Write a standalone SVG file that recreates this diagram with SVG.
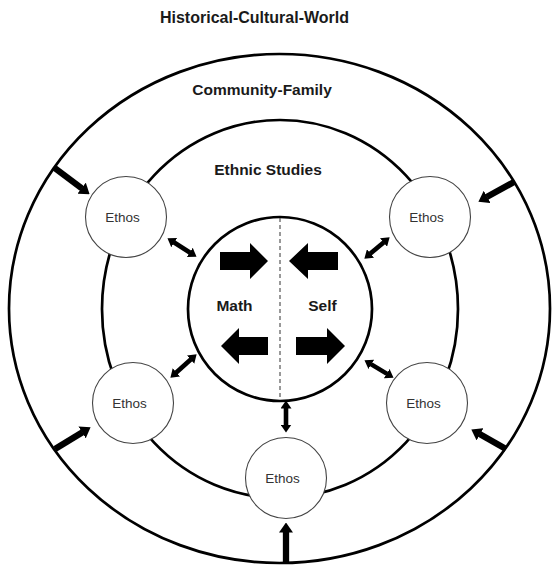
<svg xmlns="http://www.w3.org/2000/svg" width="557" height="568" viewBox="0 0 557 568">
<style>
.ring{fill:none;stroke:#000;stroke-width:2.7}
.lbl{font-family:"Liberation Sans",Arial,sans-serif;font-weight:bold;font-size:15.5px;fill:#1a1a1a;text-anchor:middle}
.ethos circle{fill:#fff;stroke:#444;stroke-width:1.1}
.ethos text{font-family:"Liberation Sans",Arial,sans-serif;font-size:13.5px;fill:#333;text-anchor:middle}
.thick{stroke:#000;stroke-width:6.3;fill:none;marker-end:url(#ah)}
.dbl{stroke:#000;stroke-width:4.6;fill:none;marker-start:url(#dh);marker-end:url(#dh)}
.blk{fill:#000}
</style>
<defs>
<marker id="ah" markerUnits="userSpaceOnUse" viewBox="0 0 10 14" markerWidth="10" markerHeight="14" refX="0.5" refY="7" orient="auto"><path d="M0,0 L10,7 L0,14 Z" fill="#000"/></marker>
<marker id="dh" markerUnits="userSpaceOnUse" viewBox="0 0 8 11" markerWidth="8" markerHeight="11" refX="0.5" refY="5.5" orient="auto-start-reverse"><path d="M0,0 L8,5.5 L0,11 Z" fill="#000"/></marker>
</defs>
<rect width="557" height="568" fill="#fff"/>
<text class="lbl" x="254.5" y="22.5" style="font-size:16px">Historical-Cultural-World</text>
<g id="outer"><ellipse class="ring" cx="279.5" cy="308.5" rx="270.5" ry="254.5"/></g>
<text class="lbl" x="262" y="95">Community-Family</text>
<g id="middle"><ellipse class="ring" cx="280" cy="309" rx="178" ry="189"/></g>
<text class="lbl" x="268" y="175">Ethnic Studies</text>
<g id="core">
<circle class="ring" cx="280" cy="309" r="92"/>
<line x1="280" y1="218" x2="280" y2="400" stroke="#333" stroke-width="1" stroke-dasharray="4 3"/>
<polygon class="blk" points="220,252 250,252 250,243 268,261 250,279 250,270 220,270"/>
<polygon class="blk" points="338,252 308,252 308,243 289,261 308,279 308,270 338,270"/>
<polygon class="blk" points="268,337 239,337 239,328 221,346 239,364 239,355 268,355"/>
<polygon class="blk" points="296,337 327,337 327,328 345,346 327,364 327,355 296,355"/>
<text class="lbl" x="234.5" y="311">Math</text>
<text class="lbl" x="322.5" y="311">Self</text>
</g>
<g id="connectors">
<line class="thick" x1="54" y1="167.5" x2="82" y2="188.5"/>
<line class="thick" x1="514" y1="182" x2="486.7" y2="197.1"/>
<line class="thick" x1="55" y1="449" x2="82.5" y2="432.2"/>
<line class="thick" x1="506" y1="449" x2="479.6" y2="434.1"/>
<line class="thick" x1="286" y1="563" x2="286" y2="532"/>
<line class="dbl" x1="173.8" y1="242.3" x2="190.2" y2="252.7"/>
<line class="dbl" x1="383.9" y1="242.2" x2="370.1" y2="253.8"/>
<line class="dbl" x1="176" y1="372.7" x2="191" y2="359.3"/>
<line class="dbl" x1="387.1" y1="373.9" x2="370.9" y2="364.1"/>
<line class="dbl" x1="286" y1="408" x2="286" y2="425"/>
</g>
<g id="ethos-tl" class="ethos"><circle cx="126" cy="217" r="40.5"/><text x="122.5" y="222">Ethos</text></g>
<g id="ethos-tr" class="ethos"><circle cx="430" cy="217" r="40.5"/><text x="426.5" y="222">Ethos</text></g>
<g id="ethos-bl" class="ethos"><circle cx="133" cy="403" r="40.5"/><text x="129.5" y="408">Ethos</text></g>
<g id="ethos-br" class="ethos"><circle cx="427" cy="403" r="40.5"/><text x="423.5" y="408">Ethos</text></g>
<g id="ethos-b" class="ethos"><circle cx="286" cy="478" r="40.5"/><text x="282.5" y="483">Ethos</text></g>
</svg>
